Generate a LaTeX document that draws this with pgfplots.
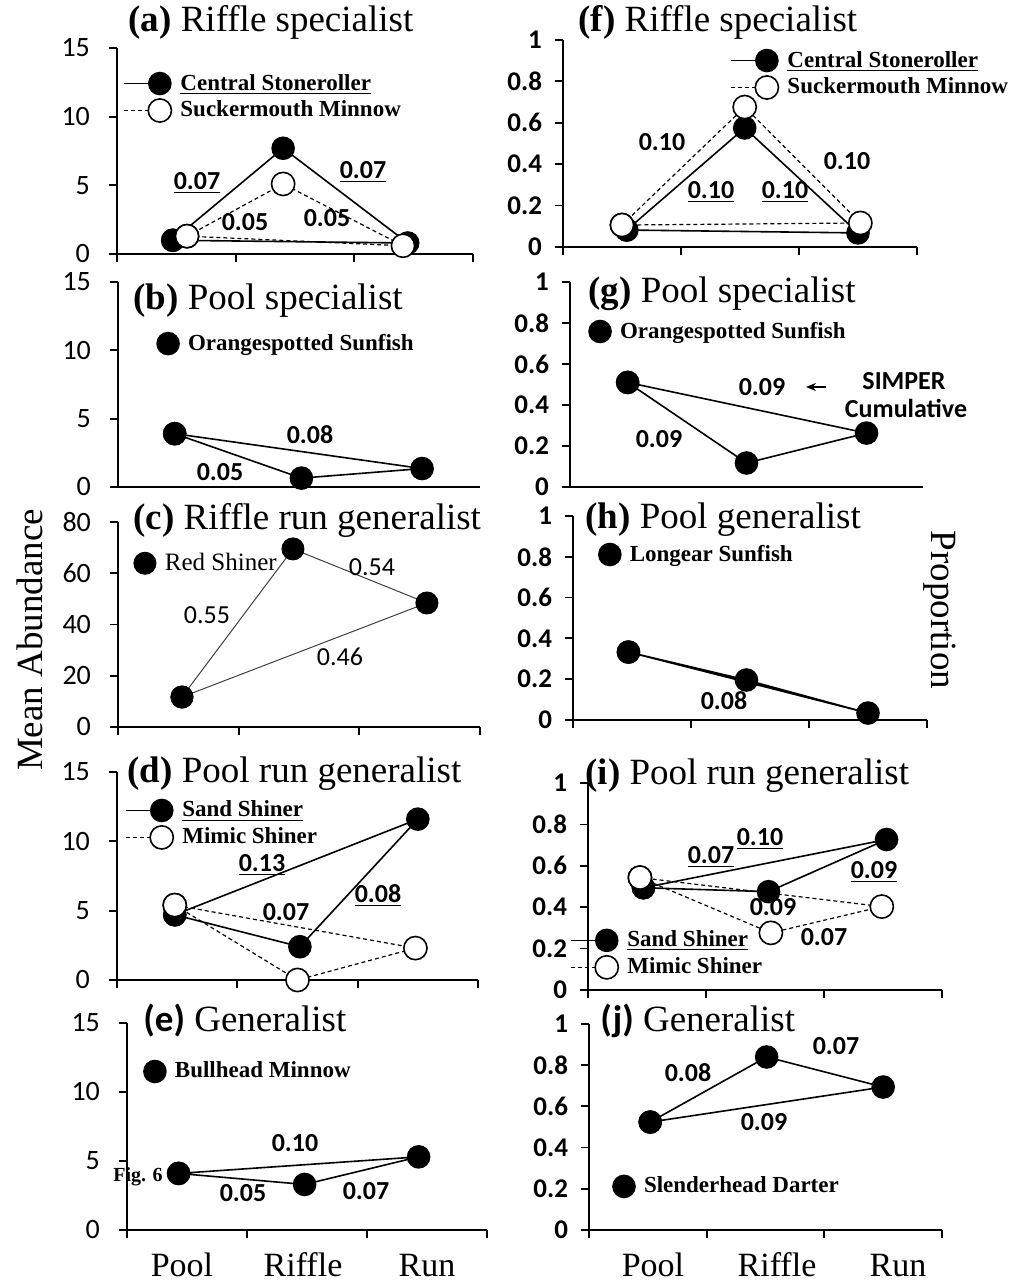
\documentclass[border=0pt]{standalone}
\usepackage{fontspec}
\setmainfont{Liberation Serif}
\newfontfamily\carlito{Carlito}
\usepackage{pgfplots}
\pgfplotsset{compat=1.18}
\usetikzlibrary{arrows.meta}

\newcommand{\tfont}{\fontsize{18.5}{22}\selectfont}
\newcommand{\leftticks}{\carlito\fontsize{14}{16}\selectfont}
\newcommand{\rightticks}{\carlito\bfseries\fontsize{13.5}{15}\selectfont}
\newcommand{\legfont}{\bfseries\fontsize{11.5}{13}\selectfont}

\pgfplotsset{
  panel/.style={
    scale only axis, clip=false,
    axis x line*=bottom, axis y line*=left,
    xmin=0, xmax=3, xtick={0,1,2,3}, xticklabels={},
    tick align=outside, major tick length=4pt,
    tick style={line width=0.9pt, black},
    axis line style={line width=1pt, black},
    ymin=0,
    /pgf/number format/assume math mode=true,
    legend style={draw=none, fill=none, inner sep=0pt, outer sep=0pt,
      anchor=north west, legend cell align=left, row sep=1pt,
      nodes={inner sep=1.5pt}, font=\legfont,
      /tikz/every odd column/.append style={column sep=3pt}},
  },
  leftcol/.style={panel, ymax=15, ytick={0,5,10,15},
    yticklabel style={font=\leftticks, xshift=-6pt}},
  rightcol/.style={panel, ymax=1, ytick={0,0.2,0.4,0.6,0.8,1},
    yticklabels={0,0.2,0.4,0.6,0.8,1},
    yticklabel style={font=\rightticks, xshift=-3pt}},
  filled/.style={line width=0.8pt, black, mark=*, mark size=5.5pt,
    mark options={solid, fill=black}},
  open/.style={line width=0.6pt, black, dash pattern=on 2pt off 1.5pt,
    mark=*, mark size=5.8pt, mark options={solid, fill=white, line width=0.8pt}},
  lineleg/.style={legend image code/.code={%
    \draw[##1,mark repeat=2,mark phase=2] plot coordinates {(-18pt,0pt)(0pt,0pt)};}},
  markleg/.style={legend image code/.code={%
    \draw[##1] plot coordinates {(0pt,0pt)};}},
}

\tikzset{
  num/.style={font=\carlito\bfseries\fontsize{13}{15}\selectfont, inner sep=0pt},
  numr/.style={font=\carlito\fontsize{13}{15}\selectfont, inner sep=0pt},
  ttl/.style={font=\tfont, anchor=base west, inner sep=0pt},
  cat/.style={font=\fontsize{17}{20}\selectfont, anchor=base, inner sep=0pt},
}

\begin{document}
\begin{tikzpicture}[x=0.5pt,y=0.5pt]
\useasboundingbox (0,0) rectangle (1018,1282);

% ---------------- (a)
\begin{axis}[leftcol, at={(58.5pt,514pt)}, anchor=south west,
  width=178pt, height=103pt, legend style={at={(0.017,0.888)}}]
\addplot[filled, lineleg] coordinates {(0.47,1.0) (1.40,7.7) (2.45,0.8) (0.47,1.0)};
\addlegendentry{\underline{Central Stoneroller}}
\addplot[open, lineleg] coordinates {(0.59,1.3) (1.40,5.1) (2.41,0.6) (0.59,1.3)};
\addlegendentry{Suckermouth Minnow}
\end{axis}
\node[num] at (197,1099) {\underline{0.07}};
\node[num] at (363,1110) {\underline{0.07}};
\node[num] at (245,1060) {0.05};
\node[num] at (327,1064) {0.05};
\node[ttl] at (128,1250) {\textbf{(a)} Riffle specialist};

% ---------------- (b)
\begin{axis}[leftcol, at={(59pt,397.5pt)}, anchor=south west,
  width=181pt, height=102.5pt, xtick=\empty, legend style={at={(0.108,0.761)}}]
\addplot[filled, markleg] coordinates {(0.47,3.9) (1.52,0.65) (2.52,1.35) (0.47,3.9)};
\addlegendentry{Orangespotted Sunfish}
\end{axis}
\node[num] at (310,847) {0.08};
\node[num] at (220,810) {0.05};
\node[ttl] at (133,972) {\textbf{(b)} Pool specialist};

% ---------------- (c)
\begin{axis}[panel, ymax=80, ytick={0,20,40,60,80},
  yticklabel style={font=\leftticks, xshift=-6pt},
  at={(59pt,277.5pt)}, anchor=south west,
  width=181pt, height=102.5pt,
  legend style={at={(0.044,0.863)}, font=\fontsize{12.5}{14}\selectfont}]
\addplot[black!75, line width=0.5pt, mark=*, mark size=5.5pt,
  mark options={fill=black, draw=black}, markleg]
  coordinates {(0.53,11.7) (1.45,69.5) (2.56,48.4) (0.53,11.7)};
\addlegendentry{Red Shiner}
\end{axis}
\node[numr] at (207,667) {0.55};
\node[numr] at (372,715) {0.54};
\node[numr] at (340,625) {0.46};
\node[ttl] at (133,752) {\textbf{(c)} Riffle run generalist};

% ---------------- (d)
\begin{axis}[leftcol, at={(58.5pt,151pt)}, anchor=south west,
  width=180.5pt, height=104pt, legend style={at={(0.022,0.875)}}]
\addplot[filled, lineleg] coordinates {(0.48,4.7) (1.52,2.4) (2.50,11.6) (0.48,4.7)};
\addlegendentry{\underline{Sand Shiner}}
\addplot[open, lineleg] coordinates {(0.48,5.4) (1.50,0.0) (2.48,2.3) (0.48,5.4)};
\addlegendentry{Mimic Shiner}
\end{axis}
\node[num] at (262,417) {\underline{0.13}};
\node[num] at (286,370) {0.07};
\node[num] at (378,386) {\underline{0.08}};
\node[ttl] at (127,499) {\textbf{(d)} Pool run generalist};

% ---------------- (e)
\node[font=\bfseries\fontsize{10}{12}\selectfont, inner sep=0pt] at (138,105) {Fig. 6};
\begin{axis}[leftcol, at={(63.5pt,26pt)}, anchor=south west,
  width=180pt, height=103.5pt, legend style={at={(0.047,0.826)}}]
\addplot[filled, markleg] coordinates {(0.43,4.1) (1.48,3.3) (2.43,5.3) (0.43,4.1)};
\addlegendentry{Bullhead Minnow}
\end{axis}
\node[num] at (295,139) {0.10};
\node[num] at (243,89) {0.05};
\node[num] at (366,91) {0.07};
\node[ttl] at (143,250) {{\carlito\bfseries (e)} Generalist};

% ---------------- (f)
\begin{axis}[rightcol, at={(281.5pt,517.5pt)}, anchor=south west,
  width=177pt, height=103.5pt, legend style={at={(0.472,0.961)}}]
\addplot[filled, lineleg] coordinates {(0.54,0.082) (1.54,0.575) (2.50,0.068) (0.54,0.082)};
\addlegendentry{\underline{Central Stoneroller}}
\addplot[open, lineleg] coordinates {(0.50,0.106) (1.54,0.676) (2.52,0.116) (0.50,0.106)};
\addlegendentry{Suckermouth Minnow}
\end{axis}
\node[num] at (662,1140) {0.10};
\node[num] at (711,1090) {\underline{0.10}};
\node[num] at (785,1090) {\underline{0.10}};
\node[num] at (847,1121) {0.10};
\node[ttl] at (578,1250) {\textbf{(f)} Riffle specialist};

% ---------------- (g)
\begin{axis}[rightcol, at={(285pt,397.5pt)}, anchor=south west,
  width=176.5pt, height=102.5pt, xtick=\empty, legend style={at={(0.054,0.82)}}]
\addplot[filled, markleg] coordinates {(0.49,0.51) (1.50,0.117) (2.52,0.263) (0.49,0.51)};
\addlegendentry{Orangespotted Sunfish}
\end{axis}
\node[num] at (762,895) {0.09};
\node[num] at (659,843) {0.09};
\draw[-{Stealth[length=5pt,width=4pt]}, line width=0.6pt] (826,895) -- (806,895);
\node[num] at (904,901) {SIMPER};
\node[num] at (906,874) {Cumulative};
\node[ttl] at (588,979) {\textbf{(g)} Pool specialist};

% ---------------- (h)
\begin{axis}[rightcol, at={(286.5pt,281pt)}, anchor=south west,
  width=177pt, height=102pt, legend style={at={(0.073,0.873)}}]
\addplot[filled, markleg] coordinates {(0.47,0.333) (1.47,0.196) (2.50,0.034) (0.47,0.333)};
\addlegendentry{Longear Sunfish}
\end{axis}
\node[num] at (724,581) {0.08};
\node[ttl] at (585,753) {\textbf{(h)} Pool generalist};
\node[rotate=-90, font=\fontsize{18.5}{22}\selectfont] at (940,672) {Proportion};

% ---------------- (i)
\begin{axis}[rightcol, at={(294pt,146pt)}, anchor=south west,
  width=177pt, height=103.5pt, legend style={at={(-0.051,0.30)}}]
\addplot[filled, lineleg] coordinates {(0.47,0.494) (1.53,0.475) (2.53,0.727) (0.47,0.494)};
\addlegendentry{\underline{Sand Shiner}}
\addplot[open, lineleg] coordinates {(0.44,0.543) (1.55,0.276) (2.49,0.403) (0.44,0.543)};
\addlegendentry{Mimic Shiner}
\end{axis}
\node[num] at (711,425) {\underline{0.07}};
\node[num] at (760,443) {\underline{0.10}};
\node[num] at (874,410) {\underline{0.09}};
\node[num] at (773,375) {0.09};
\node[num] at (824,345) {0.07};
\node[ttl] at (585,497) {\textbf{(i)} Pool run generalist};

% ---------------- (j)
\begin{axis}[rightcol, at={(294.5pt,26pt)}, anchor=south west,
  width=176.5pt, height=103pt, legend style={at={(0.068,0.272)}}]
\addplot[filled, markleg] coordinates {(0.52,0.524) (1.51,0.84) (2.50,0.694) (0.52,0.524)};
\addlegendentry{Slenderhead Darter}
\end{axis}
\node[num] at (688,209) {0.08};
\node[num] at (836,236) {0.07};
\node[num] at (764,160) {0.09};
\node[ttl] at (600,250) {{\carlito\bfseries (j)} Generalist};

% ---------------- shared labels
\node[rotate=90, font=\fontsize{18.5}{22}\selectfont] at (30,642) {Mean Abundance};
\node[cat] at (182,5) {Pool};
\node[cat] at (303,5) {Riffle};
\node[cat] at (427,5) {Run};
\node[cat] at (653,5) {Pool};
\node[cat] at (777,5) {Riffle};
\node[cat] at (898,5) {Run};
\end{tikzpicture}
\end{document}
